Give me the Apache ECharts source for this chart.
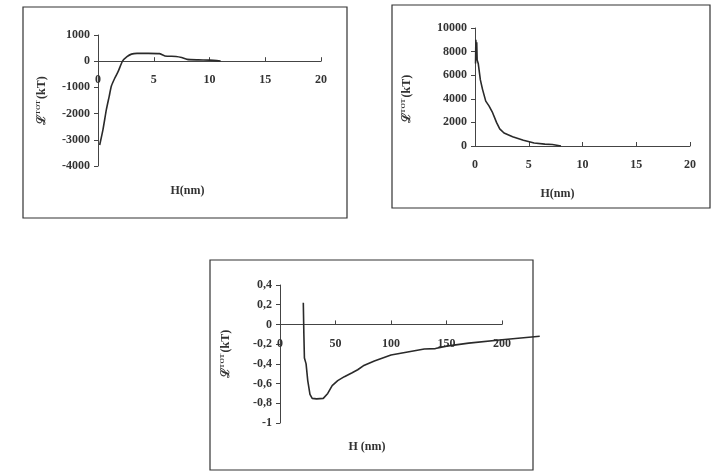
<!DOCTYPE html>
<html><head><meta charset="utf-8">
<script src="https://cdn.jsdelivr.net/npm/echarts@6/dist/echarts.min.js"></script>
<style>html,body{margin:0;padding:0;background:#fff;}#c{width:715px;height:473px;}</style>
</head><body><div id="c"></div>
<script>
// Panel 1: total interaction energy (kT) vs H (nm)
const h1 = [0.15,0.45,0.75,1.0,1.2,1.5,1.8,2.2,2.6,3.0,3.5,4.5,5.5,6.0,7.0,7.5,8.0,9.0,10.0,11.0];
const g1 = [-3200,-2600,-1850,-1350,-950,-650,-400,0,170,270,300,300,290,200,180,140,70,50,40,10];
// Panel 2
const h2 = [0.05,0.08,0.12,0.16,0.2,0.3,0.5,0.7,1.0,1.3,1.6,2.0,2.3,2.7,3.5,4.5,5.5,6.5,7.2,8.0];
const g2 = [7000,9000,8000,8800,7300,7000,5600,4800,3800,3400,2900,2000,1450,1100,780,480,250,160,130,0];
// Panel 3 (the curve runs past the 200 nm end of the axis)
const h3 = [21,21.5,22,23.5,25,27,29,33,39,43,47,52,58,65,70,75,85,100,115,130,140,150,170,200,234];
const g3 = [0.22,-0.1,-0.34,-0.4,-0.57,-0.71,-0.75,-0.755,-0.75,-0.7,-0.62,-0.57,-0.53,-0.49,-0.46,-0.42,-0.37,-0.31,-0.28,-0.25,-0.245,-0.22,-0.19,-0.155,-0.12];
const xRange12 = [0,20,5];
const xRange3 = [0,200,50];
const yRange1 = [-4000,1000,1000];
const yRange2 = [0,10000,2000];
const yRange3 = [-1,0.4,0.2];
const xName = 'H(nm)';
const xName3 = 'H (nm)';
const yName = '{a|ℒ}{s|TOT}{a|(kT)}';

const F = 'Liberation Serif';
const ink = '#2a2a2a';
const lbl = {fontFamily:F, fontSize:12, fontWeight:'bold', color:'#333'};
const grids = [
  {left:98, top:35, width:223, height:131},
  {left:475, top:28, width:215, height:118},
  {left:280, top:285, width:222, height:138}
];
const yRanges = [yRange1, yRange2, yRange3];
const h3Max = Math.max.apply(null, h3);
// extended, hidden grid for panel 3 so the curve can run beyond the 200 nm axis end
grids.push({left:grids[2].left, top:grids[2].top, height:grids[2].height,
            width:grids[2].width * h3Max / xRange3[1]});
function zeroOffset(idx){
  const r = yRanges[idx], g = grids[idx];
  return -g.height * (0 - r[0]) / (r[1] - r[0]);
}
function xAx(idx, rng, gap, padR){
  return {type:'value', gridIndex:idx, min:rng[0], max:rng[1], interval:rng[2],
    position:'bottom', offset:zeroOffset(idx),
    axisLine:{onZero:false, lineStyle:{color:'#444', width:1}},
    axisTick:{inside:true, length:4, lineStyle:{color:'#444'}},
    splitLine:{show:false},
    axisLabel:Object.assign({margin:13, showMinLabel:true, showMaxLabel:true}, lbl),
    name: idx===2?xName3:xName, nameLocation:'middle', nameGap:gap,
    nameTextStyle:Object.assign({padding:[0,padR,0,0]}, lbl)};
}
function yAx(idx, gap, fmt, padR){
  const r = yRanges[idx];
  return {type:'value', gridIndex:idx, min:r[0], max:r[1], interval:r[2],
    axisLine:{show:true, onZero:false, lineStyle:{color:'#444', width:1}},
    axisTick:{show:true, length:4, lineStyle:{color:'#444'}},
    splitLine:{show:false},
    axisLabel:Object.assign({margin:8, formatter:fmt}, lbl),
    name:yName, nameLocation:'middle', nameGap:gap,
    nameTextStyle:{padding:[0,padR,0,0], rich:{a:{fontFamily:F,fontSize:12,fontWeight:'bold',color:'#333'},
                         s:{fontFamily:F,fontSize:7,fontWeight:'bold',color:'#333',verticalAlign:'top',padding:[0,1,6,0]}}}};
}
function zip(a,b){return a.map((v,i)=>[v,b[i]]);}
const chart = echarts.init(document.getElementById('c'));
chart.setOption({
  backgroundColor:'#fff',
  animation:false,
  grid:grids.map(g=>Object.assign({outerBoundsMode:'none', containLabel:false}, g)),
  xAxis:[xAx(0,xRange12,124,44), xAx(1,xRange12,42,50), xAx(2,xRange3,116,48),
         {type:'value', gridIndex:3, min:xRange3[0], max:h3Max, show:false}],
  yAxis:[
    yAx(0,50,v=>String(v),0),
    yAx(1,62,v=>String(v),24),
    yAx(2,48,v=>{const r=Math.round(v*10)/10; return String(r).replace('.',',');},0),
    {type:'value', gridIndex:3, min:yRange3[0], max:yRange3[1], show:false}
  ],
  graphic:[
    {type:'rect', shape:{x:23,y:7,width:324,height:211}, style:{fill:'none', stroke:'#333', lineWidth:1.2}},
    {type:'rect', shape:{x:392,y:5,width:318,height:203}, style:{fill:'none', stroke:'#333', lineWidth:1.2}},
    {type:'rect', shape:{x:210,y:260,width:323,height:210}, style:{fill:'none', stroke:'#333', lineWidth:1.2}}
  ],
  series:[
    {type:'line', xAxisIndex:0, yAxisIndex:0, data:zip(h1,g1), showSymbol:false, smooth:0.2, lineStyle:{color:ink,width:1.6}},
    {type:'line', xAxisIndex:1, yAxisIndex:1, data:zip(h2,g2), showSymbol:false, lineStyle:{color:ink,width:1.6}},
    {type:'line', xAxisIndex:3, yAxisIndex:3, data:zip(h3,g3), showSymbol:false, clip:false, lineStyle:{color:ink,width:1.6}}
  ]
});
</script></body></html>
